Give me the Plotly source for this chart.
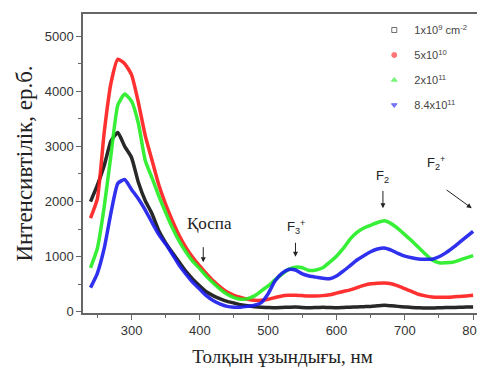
import plotly.graph_objects as go

wavelength = list(range(240, 801, 10))

black_1e9 = [2000, 2300, 2650, 3100, 3250, 3000, 2800, 2350, 2020, 1780,
             1470, 1250, 1070, 900, 730, 590, 470, 360, 290, 235,
             190, 160, 130, 110, 95, 85, 80, 75, 80, 85,
             90, 80, 75, 80, 85, 80, 75, 80, 85, 90,
             95, 100, 110, 120, 110, 100, 90, 80, 75, 70,
             70, 75, 80, 80, 85, 90, 90]

red_5e10 = [1700, 2050, 3250, 4150, 4580, 4500, 4300, 3800, 3200, 2750,
            2300, 1950, 1650, 1380, 1160, 980, 830, 690, 560, 450,
            360, 300, 260, 230, 210, 210, 230, 260, 290, 300,
            300, 295, 290, 290, 295, 310, 340, 370, 400, 440,
            480, 510, 520, 525, 510, 470, 420, 370, 320, 290,
            270, 265, 265, 270, 280, 290, 300]

green_2e11 = [800, 1150, 1900, 2850, 3750, 3950, 3820, 3420, 2750, 2430,
              2100, 1800, 1520, 1280, 1080, 910, 780, 640, 520, 410,
              320, 260, 230, 240, 290, 380, 470, 580, 680, 770,
              810, 800, 750, 760, 800, 900, 1010, 1150, 1320, 1440,
              1520, 1570, 1620, 1650, 1600, 1510, 1400, 1290, 1170, 1050,
              940, 890, 890, 900, 940, 980, 1020]

blue_84e11 = [440, 700, 1150, 1800, 2330, 2400, 2220, 2050, 1850, 1620,
              1400, 1230, 1040, 840, 680, 530, 410, 290, 200, 140,
              100, 85, 85, 100, 120, 170, 330, 560, 700, 770,
              760, 690, 650, 630, 610, 600, 650, 740, 840, 940,
              1020, 1090, 1140, 1160, 1120, 1060, 1010, 980, 960, 955,
              955, 1000, 1070, 1160, 1260, 1360, 1460]

series = [
    ("1x10<sup>9</sup> cm<sup>-2</sup>", black_1e9, "#111111", "square-open"),
    ("5x10<sup>10</sup>", red_5e10, "#ff1a1a", "circle"),
    ("2x10<sup>11</sup>", green_2e11, "#22ee22", "triangle-up"),
    ("8.4x10<sup>11</sup>", blue_84e11, "#1a1aee", "triangle-down"),
]

fig = go.Figure()
for name, vals, color, sym in series:
    fig.add_trace(go.Scatter(x=wavelength, y=vals, mode="lines",
                             line=dict(color=color, width=3.5, shape="spline", smoothing=0.5),
                             opacity=0.9, showlegend=False, hoverinfo="skip"))
for i, (name, vals, color, sym) in enumerate(series):
    fig.add_trace(go.Scatter(x=[None], y=[None], mode="markers", name=name,
                             legendgroup="g%d" % i,
                             marker=dict(color=color, symbol=sym, size=5, opacity=0.6,
                                         line=dict(width=1, color=color))))

tickfont = dict(family="Liberation Sans, Arial", size=13, color="#333333")
axcol = "#666666"

fig.update_layout(
    width=477, height=361,
    margin=dict(l=75, r=3, t=6, b=56, autoexpand=False),
    paper_bgcolor="white", plot_bgcolor="white",
    showlegend=True,
    legend=dict(x=0.73, y=0.995, xanchor="left", yanchor="top",
                font=dict(family="Liberation Sans, Arial", size=11, color="#444444"),
                bgcolor="rgba(0,0,0,0)", tracegroupgap=6, itemwidth=30),
    xaxis=dict(range=[229, 813], showgrid=False, zeroline=False,
               showline=True, linecolor=axcol, linewidth=1.5, mirror=True,
               ticks="outside", ticklen=5, tickcolor=axcol, tickwidth=1.2,
               tickvals=[300, 400, 500, 600, 700, 800], tickfont=tickfont,
               minor=dict(tickvals=[250, 350, 450, 550, 650, 750], ticks="outside",
                          ticklen=3, tickcolor=axcol),
               title=dict(text="Толқын ұзындығы, нм",
                          font=dict(family="Liberation Serif, Times New Roman", size=19, color="#222222"),
                          standoff=12)),
    yaxis=dict(range=[-20, 5400], showgrid=False, zeroline=False,
               showline=True, linecolor=axcol, linewidth=1.5, mirror=True,
               ticks="outside", ticklen=5, tickcolor=axcol, tickwidth=1.2,
               tickvals=[0, 1000, 2000, 3000, 4000, 5000], tickfont=tickfont,
               minor=dict(tickvals=[500, 1500, 2500, 3500, 4500], ticks="outside",
                          ticklen=3, tickcolor=axcol),
               title=dict(text="Интенсивтілік, ер.б.",
                          font=dict(family="Liberation Serif, Times New Roman", size=23, color="#222222"),
                          standoff=6)),
    xaxis2=dict(overlaying="x", side="top", anchor="y", matches="x", range=[229, 813],
                showgrid=False, zeroline=False, showline=False, showticklabels=False,
                ticks="inside", ticklen=5, tickcolor=axcol,
                tickvals=[300, 400, 500, 600, 700, 800]),
    yaxis2=dict(overlaying="y", side="right", anchor="x", matches="y", range=[-20, 5400],
                showgrid=False, zeroline=False, showline=False, showticklabels=False,
                ticks="inside", ticklen=5, tickcolor=axcol,
                tickvals=[0, 1000, 2000, 3000, 4000, 5000]),
)

ann_font = dict(family="Liberation Sans, Arial", size=13, color="#222222")
arrow = dict(showarrow=True, arrowhead=2, arrowsize=1, arrowwidth=1, arrowcolor="#222222",
             axref="x", ayref="y")

fig.add_annotation(x=405, y=900, ax=405, ay=1200, text="", **arrow)
fig.add_annotation(x=414, y=1600, text="Қоспа", showarrow=False,
                   font=dict(family="Liberation Serif, Times New Roman", size=17, color="#222222"))

fig.add_annotation(x=540, y=1000, ax=540, ay=1280, text="", **arrow)
fig.add_annotation(x=541, y=1530, text="F<sub>3</sub><sup>+</sup>", showarrow=False, font=ann_font)

fig.add_annotation(x=668, y=1880, ax=668, ay=2220, text="", **arrow)
fig.add_annotation(x=668, y=2450, text="F<sub>2</sub>", showarrow=False, font=ann_font)

fig.add_annotation(x=798, y=1880, ax=759, ay=2230, text="", **arrow)
fig.add_annotation(x=745, y=2700, text="F<sub>2</sub><sup>+</sup>", showarrow=False, font=ann_font)

fig.write_html("out.html")
